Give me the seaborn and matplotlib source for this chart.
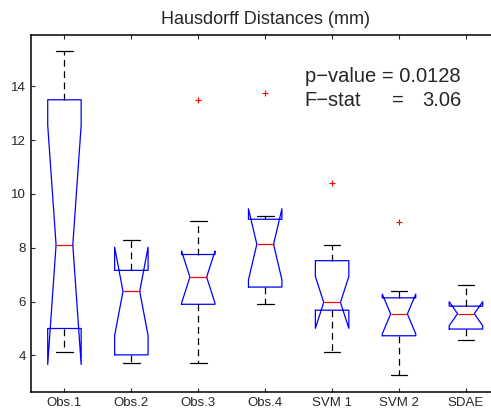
import pandas as pd
import matplotlib
matplotlib.use("Agg")
import matplotlib.pyplot as plt
import seaborn as sns

# nine cases per method (quartiles, whiskers, outliers)
methods = ["Obs.1", "Obs.2", "Obs.3", "Obs.4", "SVM 1", "SVM 2", "SDAE"]
obs1 = [4.12, 4.60, 5.00, 6.50, 8.11, 10.20, 13.50, 14.30, 15.30]
obs2 = [3.71, 3.90, 4.02, 5.20, 6.38, 6.90, 7.16, 7.80, 8.30]
obs3 = [3.71, 5.30, 5.90, 6.40, 6.91, 7.30, 7.75, 9.00, 13.50]
obs4 = [5.91, 6.20, 6.54, 7.40, 8.13, 8.80, 9.06, 9.19, 13.76]
svm1 = [4.12, 5.10, 5.68, 5.85, 5.97, 6.90, 7.52, 8.11, 10.42]
svm2 = [3.26, 4.30, 4.73, 5.20, 5.54, 5.90, 6.14, 6.38, 8.94]
sdae = [4.59, 4.80, 4.98, 5.30, 5.55, 5.70, 5.83, 6.20, 6.61]
title = "Hausdorff Distances (mm)"
p_label = "p\u2212value = 0.0128"
f_label, f_eq, f_value = "F\u2212stat", "=", "3.06"

df = pd.DataFrame({
    "method": [m for m, v in zip(methods, [obs1, obs2, obs3, obs4, svm1, svm2, sdae]) for _ in v],
    "hd": obs1 + obs2 + obs3 + obs4 + svm1 + svm2 + sdae,
})

sns.set_style("ticks")
plt.rcParams["font.family"] = ["Liberation Sans", "DejaVu Sans"]

fig = plt.figure(figsize=(4.91, 4.1001), dpi=100)
ax = fig.add_axes([0.0631, 0.0439, 0.954, 0.8715])

sns.boxplot(data=df, x="method", y="hd", order=methods, notch=True, fill=False,
            width=0.5, whis=1.5, color="blue", linewidth=0.9, ax=ax,
            medianprops=dict(color="red"),
            whiskerprops=dict(color="black", linestyle=(0, (5.4, 3.6))),
            capprops=dict(color="black"),
            flierprops=dict(marker="+", markeredgecolor="red", markersize=5,
                            markeredgewidth=0.8))

ax.set_xlim(-0.5, 6.5)
ax.set_ylim(2.64, 15.92)
ax.set_yticks([4, 6, 8, 10, 12, 14])
ax.set_xlabel("")
ax.set_ylabel("")
ax.set_title(title, fontsize=13, pad=7.5)
ax.tick_params(direction="in", length=3, width=0.8, top=True, right=False,
               labelsize=9.5, pad=3.5)
for s in ax.spines.values():
    s.set_visible(True)
    s.set_linewidth(1.1)
    s.set_color("black")
# the right edge of the frame lies outside the picture
ax.spines["right"].set_visible(False)

ax.text(3.59, 14.36, p_label, fontsize=14.5, va="center", ha="left")
ax.text(3.59, 13.49, f_label, fontsize=14.5, va="center", ha="left")
ax.text(4.98, 13.49, f_eq, fontsize=14.5, va="center", ha="center")
ax.text(5.94, 13.49, f_value, fontsize=14.5, va="center", ha="right")

fig.savefig("out.png", dpi=100)
